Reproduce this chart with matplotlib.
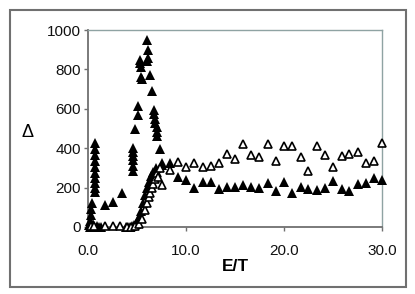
import matplotlib; matplotlib.use('Agg')
import matplotlib.pyplot as plt
from matplotlib.patches import Rectangle

# filled triangles
e_fill = [0.1, 0.2, 0.2, 0.3, 0.3, 0.4, 0.4, 0.5, 0.6,
          0.7, 0.7, 0.7, 0.7, 0.7, 0.7, 0.7, 0.7, 0.7, 0.7,
          0.9, 1.1, 1.3, 1.7, 2.5, 3.5,
          3.9, 4.1, 4.3, 4.5, 4.7, 4.9,
          4.6, 4.6, 4.6, 4.6, 4.6, 4.6, 4.8, 5.1, 5.1,
          5.3, 5.3, 5.4, 5.4, 5.5, 6.0, 6.1, 6.1, 6.0, 6.3, 6.5,
          6.7, 6.7, 6.8, 6.8, 7.0, 7.0, 7.0, 7.3, 7.5,
          5.0, 5.2, 5.4, 5.6, 5.8, 6.0, 6.2, 6.4, 6.6, 6.9,
          7.6, 8.4, 9.2, 10.0, 10.8, 11.7, 12.5, 13.4, 14.2, 15.0,
          15.8, 16.6, 17.4, 18.4, 19.2, 20.0, 20.8, 21.7, 22.4, 23.4,
          24.2, 25.0, 25.9, 26.6, 27.6, 28.4, 29.2, 30.0]
d_fill = [10, 30, 0, 60, 90, 120, 0, 15, 5,
          425, 395, 365, 335, 305, 275, 250, 225, 200, 180,
          5, 0, 0, 110, 125, 175,
          0, 0, 0, 5, 10, 15,
          400, 380, 360, 340, 310, 285, 495, 615, 570,
          850, 830, 810, 760, 750, 950, 900, 860, 845, 770, 690,
          595, 575, 550, 530, 510, 480, 460, 395, 325,
          25, 50, 80, 120, 160, 200, 230, 260, 280, 300,
          315, 325, 255, 240, 198, 228, 228, 193, 203, 205,
          213, 203, 198, 223, 183, 228, 173, 203, 195, 188,
          198, 233, 193, 183, 218, 223, 249, 239]

# open triangles
e_open = [0.3, 0.6, 1.7, 2.5, 3.3, 4.0, 4.4, 4.8, 5.2, 5.5,
          5.8, 6.0, 6.2, 6.3, 6.5, 6.6, 6.8, 7.0, 7.1, 7.3, 7.6,
          8.4, 9.2, 10.0, 10.8, 11.7, 12.5, 13.4, 14.2, 15.0, 15.8,
          16.6, 17.4, 18.4, 19.2, 20.0, 20.8, 21.7, 22.4, 23.4, 24.2,
          25.0, 25.9, 26.6, 27.6, 28.4, 29.2, 30.0]
d_open = [5, 5, 5, 5, 5, 0, 0, 5, 15, 40,
          85, 120, 150, 175, 200, 220, 245, 275, 255, 300, 215,
          290, 330, 305, 325, 305, 310, 325, 370, 345, 421,
          365, 355, 421, 335, 411, 411, 355, 284, 411, 365,
          305, 360, 370, 381, 325, 335, 426]

x_ticks = [0, 10, 20, 30]
x_labels = ['0.0', '10.0', '20.0', '30.0']
y_ticks = [0, 200, 400, 600, 800, 1000]

plt.rcParams['font.family'] = ['Liberation Sans', 'DejaVu Sans']
fig = plt.figure(figsize=(4.15, 2.94), dpi=100)
ax = fig.add_axes([88/415, 1-227/294, 294/415, 197/294])

ax.plot(e_fill, d_fill, '^', color='black', ms=7.5, mew=0, clip_on=False, zorder=3)
ax.plot(e_open, d_open, '^', mfc='white', mec='black', ms=5.8, mew=1.2, clip_on=False, zorder=4)

ax.set_xlim(0, 30); ax.set_ylim(0, 1000)
ax.set_xticks(x_ticks); ax.set_xticklabels(x_labels, fontsize=11)
ax.set_yticks(y_ticks); ax.tick_params(axis='y', labelsize=11, pad=2)
ax.tick_params(axis='x', pad=9)
ax.tick_params(direction='out', length=3, width=1, colors='#707070', labelcolor='#111111')
for s in ['left', 'bottom']:
    ax.spines[s].set_color('#707070'); ax.spines[s].set_linewidth(1.3)
for s in ['top', 'right']:
    ax.spines[s].set_color('#8fa3a3'); ax.spines[s].set_linewidth(1.0)
ax.set_xlabel('E/T', fontsize=12.5, fontweight='bold', labelpad=1)
fig.text(27/415, 1-133/294, '\u0394', fontsize=13, ha='center', va='center')

# outer frame
fig.patches.append(Rectangle((10/415, 1-287/294), 396/415, 277/294, transform=fig.transFigure,
                             fill=False, ec='#707070', lw=1.5))

fig.savefig('out.png', dpi=100)
